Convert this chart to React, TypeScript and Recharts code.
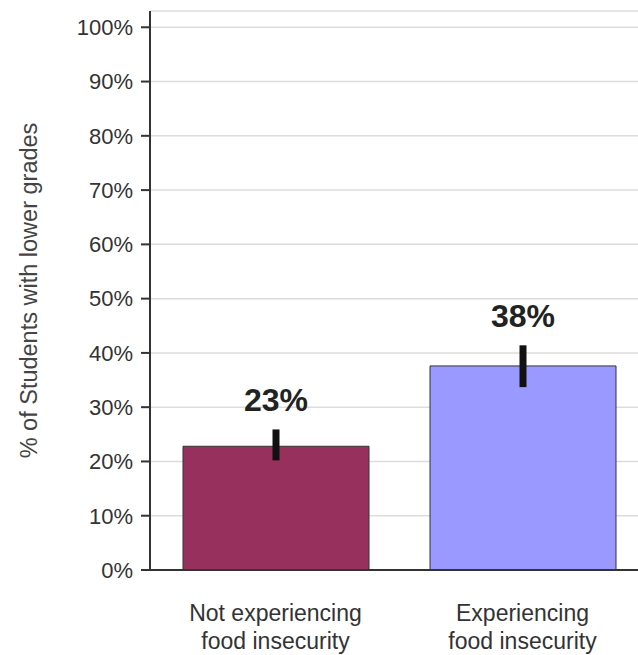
import { Bar, BarChart, CartesianGrid, Cell, ErrorBar, LabelList, XAxis, YAxis } from "recharts";

const CATEGORIES = ["Not experiencing food insecurity", "Experiencing food insecurity"];
const CATEGORY_LINES = [
	["Not experiencing", "food insecurity"],
	["Experiencing", "food insecurity"],
];
const VALUES = [22.8, 37.6];
const VALUE_LABELS = ["23%", "38%"];
// asymmetric error: [below, above]
const ERR_LOW = [2.6, 3.9];
const ERR_HIGH = [3.1, 3.8];
const BAR_COLORS = ["#98305E", "#9999FF"];
const Y_TICKS = [0, 10, 20, 30, 40, 50, 60, 70, 80, 90, 100];
const Y_TITLE = "% of Students with lower grades";

const data = CATEGORIES.map((name, i) => ({
	name,
	value: VALUES[i],
	err: [ERR_LOW[i], ERR_HIGH[i]],
}));

const FONT = "'Liberation Sans', Arial, sans-serif";

function CategoryTick(props: any) {
	const { x, y, index } = props;
	const lines = CATEGORY_LINES[index] ?? [String(props.payload?.value)];
	return (
		<text x={x} y={y} textAnchor="middle" fill="#333" fontSize={23} fontFamily={FONT}>
			{lines.map((l, i) => (
				<tspan key={i} x={x} dy={i === 0 ? 43 : 28}>
					{l}
				</tspan>
			))}
		</text>
	);
}

function ValueLabel(props: any) {
	const { x, y, width, height, index } = props;
	const perUnit = height / VALUES[index];
	const top = y - ERR_HIGH[index] * perUnit;
	return (
		<text
			x={x + width / 2}
			y={top - 18}
			textAnchor="middle"
			fill="#222"
			fontSize={32}
			fontWeight="bold"
			fontFamily={FONT}
		>
			{VALUE_LABELS[index]}
		</text>
	);
}

function YTitle(props: any) {
	const { viewBox } = props;
	const cx = 29;
	const cy = viewBox.y + viewBox.height / 2;
	return (
		<text
			x={cx}
			y={cy}
			transform={`rotate(-90, ${cx}, ${cy})`}
			textAnchor="middle"
			dominantBaseline="central"
			fill="#444"
			fontSize={23.5}
			fontFamily={FONT}
		>
			{Y_TITLE}
		</text>
	);
}

export default function App() {
	return (
		<div
			style={{
				position: "absolute",
				left: 0,
				top: 0,
				width: 638,
				height: 655,
				overflow: "hidden",
				background: "#fff",
			}}
		>
			<BarChart width={660} height={655} data={data} margin={{ top: 11, right: 14, bottom: 15, left: 0 }}>
				<CartesianGrid vertical={false} stroke="#dcdcdc" strokeWidth={1.5} />
				<XAxis
					dataKey="name"
					tick={<CategoryTick />}
					tickLine={false}
					axisLine={{ stroke: "#333", strokeWidth: 2 }}
					height={70}
					interval={0}
					padding={{ left: 2, right: 0 }}
				/>
				<YAxis
					width={150}
					domain={[0, 103]}
					ticks={Y_TICKS}
					tickFormatter={(v) => `${v}%`}
					tick={{ fill: "#333", fontSize: 22, fontFamily: FONT }}
					tickSize={9}
					tickMargin={8}
					tickLine={{ stroke: "#333", strokeWidth: 2 }}
					axisLine={{ stroke: "#333", strokeWidth: 2 }}
					allowDataOverflow
					label={<YTitle />}
				/>
				<Bar dataKey="value" barSize={186} stroke="#333" strokeWidth={1} isAnimationActive={false}>
					{data.map((d, i) => (
						<Cell key={d.name} fill={BAR_COLORS[i]} />
					))}
					<ErrorBar dataKey="err" direction="y" width={0} stroke="#111" strokeWidth={7} />
					<LabelList dataKey="value" content={<ValueLabel />} />
				</Bar>
			</BarChart>
		</div>
	);
}
